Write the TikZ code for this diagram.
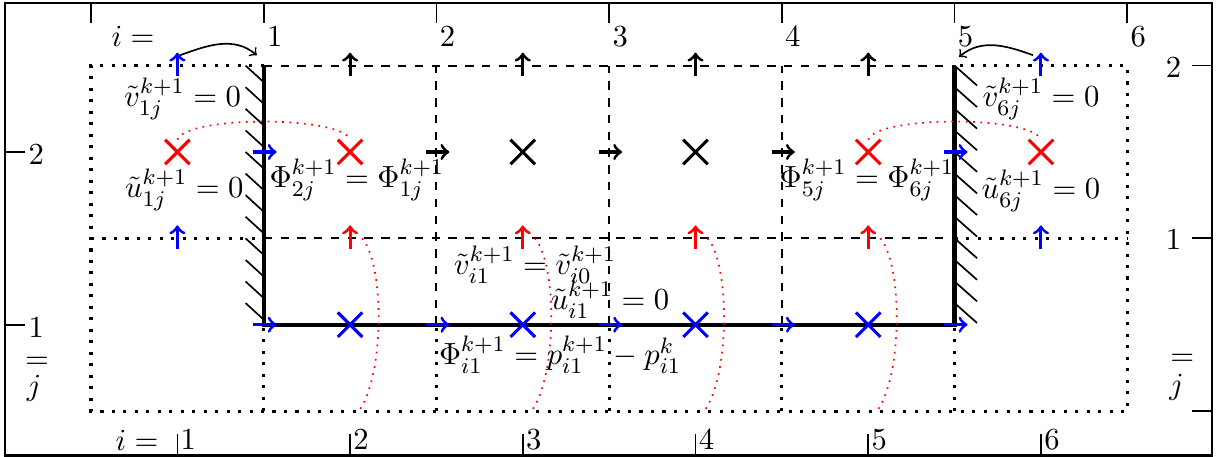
\documentclass[tikz,11pt,border=0pt]{standalone}
\usepackage{amsmath,amsfonts}
\usetikzlibrary{shapes.misc}
\newcommand{\uarr}[3]{\draw[flux,#1] (#2-0.06,#3) -- (#2+0.075,#3)}
\newcommand{\varr}[3]{\draw[flux,#1] (#2,#3-0.06) -- (#2,#3+0.075)}

\begin{document}
\begin{tikzpicture}[x=2.17cm,y=2.17cm,
	flux/.style={->,line width=1.1pt},
	pnode/.style={cross out,draw,line width=1.1pt,minimum size=0.27cm,inner sep=0pt},
	ghost/.style={line width=1.1pt,dash pattern=on 1.1pt off 3pt},
	celledge/.style={line width=0.75pt,dashed},
	wall/.style={line width=1.5pt},
	link/.style={red,dotted,semithick},
	lbl/.style={inner sep=1pt}]
	\useasboundingbox (-0.527,-0.266) rectangle (6.560,2.380);
	\draw[thick] (-0.5,-0.258) rectangle (6.49,2.362);
	% axes
	\foreach \i in {0,...,6} \draw[semithick] (\i,2.362) -- (\i,2.245);
	\foreach \i in {1,...,6} {
		\draw[semithick] (\i-0.5,-0.258) -- (\i-0.5,-0.135);
		\node[lbl,anchor=north west] (top\i) at (\i,2.245) {$\i$};
		\node[lbl,anchor=south west] (bot\i) at (\i-0.5,-0.242) {$\i$};
	}
	\foreach \j in {1,2} {
		\draw[semithick] (-0.5,\j-0.5) -- (-0.38,\j-0.5);
		\node[lbl,anchor=west] (left\j) at (-0.38,\j-0.515) {$\j$};
	}
	\foreach \j in {0,1,2} \draw[semithick] (6.49,\j) -- (6.375,\j);
	\foreach \j in {1,2} \node[anchor=east] (right\j) at (6.375,\j-0.01) {$\j$};
	\node (itop) at (0.243,2.171) {$i=$};
	\node (ibot) at (0.266,-0.17) {$i=$};
	\node (eql) at (-0.313,0.278) {$=$};
	\node (jl) at (-0.33,0.133) {$j$};
	\node (eqr) at (6.318,0.295) {$=$};
	\node (jr) at (6.285,0.139) {$j$};
	% cells
	\draw[ghost] (1,2) -- (0,2) -- (0,0) -- (6,0) -- (6,2) -- (5,2);
	\draw[ghost] (0,1) -- (1,1) (5,1) -- (6,1);
	\foreach \x in {1,...,5} \draw[ghost] (\x,0) -- (\x,0.5);
	\draw[celledge] (1,2) -- (5,2) (1,1) -- (5,1);
	\foreach \x in {2,3,4} \draw[celledge] (\x,0.5) -- (\x,2);
	\draw[wall] (1,2) -- (1,0.5) -- (5,0.5) -- (5,2);
	\foreach \k in {0,...,11} {
		\draw[semithick] (0.895,2-0.125*\k) -- ++(0.115,-0.105);
		\draw[semithick] (5,2-0.125*\k) -- ++(0.13,-0.115);
	}
	% velocities
	\uarr{blue}{1}{1.5};
	\foreach \x in {2,3,4} \uarr{}{\x}{1.5};
	\uarr{blue}{5}{1.5};
	\foreach \x in {1,...,5} \uarr{blue}{\x}{0.5};
	\varr{blue}{0.5}{2};
	\foreach \x in {1.5,2.5,3.5,4.5} \varr{}{\x}{2};
	\varr{blue}{5.5}{2};
	\varr{blue}{0.5}{1};
	\foreach \x in {1.5,2.5,3.5,4.5} \varr{red}{\x}{1};
	\varr{blue}{5.5}{1};
	% pressures
	\node[pnode,red] (x0) at (0.5,1.5) {};
	\node[pnode,red] (x1) at (1.5,1.5) {};
	\node[pnode] (x2) at (2.5,1.5) {};
	\node[pnode] (x3) at (3.5,1.5) {};
	\node[pnode,red] (x4) at (4.5,1.5) {};
	\node[pnode,red] (x5) at (5.5,1.5) {};
	\foreach \x in {1,...,4} \node[pnode,blue] (y\x) at (\x+0.5,0.5) {};
	% mirror links
	\draw[link] (x0.north) .. controls +(0.05,0.14) and +(-0.05,0.14) .. (x1.north);
	\draw[link] (x4.north) .. controls +(0.05,0.14) and +(-0.05,0.14) .. (x5.north);
	\foreach \x in {1,...,4} {
		\coordinate (vt\x) at (\x+0.57,1);
		\coordinate (vb\x) at (\x+0.55,0);
		\draw[link] (vt\x) .. controls +(0.13,-0.15) and +(0.15,0.2) .. (vb\x);
	}
	\coordinate (al) at (0.515,2.06);
	\coordinate (ar) at (0.96,2.06);
	\draw[semithick,->] (al) to[out=20,in=140] (ar);
	\coordinate (bl) at (5.455,2.06);
	\coordinate (br) at (5.026,2.05);
	\draw[semithick,->] (bl) to[out=160,in=40] (br);
	% conditions
	\node (v1) at (0.53,1.807) {$\tilde v_{1j}^{k+1}=0$};
	\node (u1) at (0.54,1.28) {$\tilde u_{1j}^{k+1}=0$};
	\node (phl) at (1.54,1.338) {$\Phi_{2j}^{k+1}=\Phi_{1j}^{k+1}$};
	\node (phr) at (4.493,1.338) {$\Phi_{5j}^{k+1}=\Phi_{6j}^{k+1}$};
	\node (v6) at (5.5,1.807) {$\tilde v_{6j}^{k+1}=0$};
	\node (u6) at (5.5,1.275) {$\tilde u_{6j}^{k+1}=0$};
	\node (vb) at (2.571,0.845) {$\tilde v_{i1}^{k+1}=\tilde v_{i0}^{k+1}$};
	\node (ub) at (3.005,0.643) {$\tilde u_{i1}^{k+1}=0$};
	\node (pb) at (2.716,0.324) {$\Phi_{i1}^{k+1}=p_{i1}^{k+1}-p_{i1}^{k}$};
\end{tikzpicture}
\end{document}
